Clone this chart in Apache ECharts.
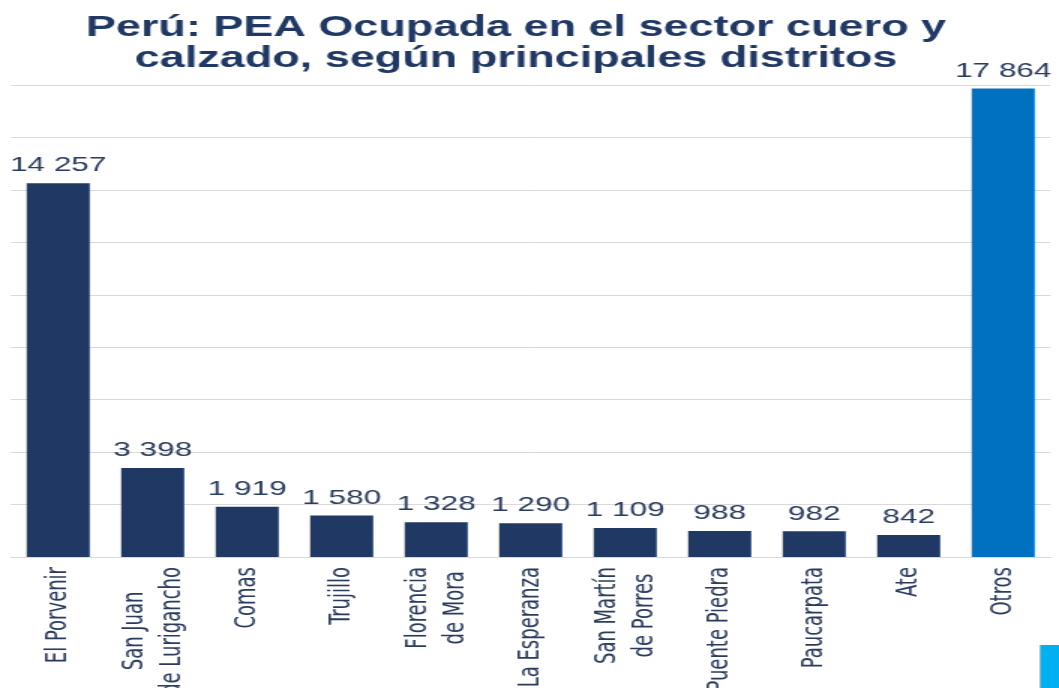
<!DOCTYPE html>
<html>
<head>
<meta charset="utf-8">
<script src="https://cdn.jsdelivr.net/npm/echarts@6/dist/echarts.min.js"></script>
<style>
  html, body { margin: 0; padding: 0; background: #fff; overflow: hidden; }
  /* the source picture is stretched sideways, so the chart is drawn narrow and widened */
  #chart { width: 706px; height: 688px; transform: scaleX(1.5); transform-origin: 0 0; }
</style>
</head>
<body>
<div id="chart"></div>
<script>
const districts = ['El Porvenir', 'San Juan\nde Lurigancho', 'Comas', 'Trujillo', 'Florencia\nde Mora',
  'La Esperanza', 'San Martín\nde Porres', 'Puente Piedra', 'Paucarpata', 'Ate', 'Otros'];
const peaOcupada = [14257, 3398, 1919, 1580, 1328, 1290, 1109, 988, 982, 842, 17864];

const navy = '#1f3864';
const textNavy = '#2a3b5c';
const blue = '#0070c0';

const fmt = v => String(v).replace(/\B(?=(\d{3})+(?!\d))/g, ' ');

const chart = echarts.init(document.getElementById('chart'), null, { renderer: 'canvas' });

chart.setOption({
  backgroundColor: '#fff',
  animation: false,
  title: {
    text: 'Perú: PEA Ocupada en el sector cuero y\ncalzado, según principales distritos',
    left: 339,
    top: 7,
    textAlign: 'center',
    textStyle: {
      fontFamily: 'Liberation Sans, Arial, sans-serif',
      fontWeight: 'bold',
      fontSize: 30,
      lineHeight: 31,
      color: navy
    }
  },
  grid: { left: 7.3, right: 5.7, top: 85, bottom: 131, containLabel: false, outerBoundsMode: 'none' },
  xAxis: {
    type: 'category',
    data: districts,
    axisTick: { show: false },
    axisLine: { lineStyle: { color: '#d9d9d9', width: 1 } },
    axisLabel: {
      rotate: 90,
      margin: 10,
      interval: 0,
      formatter: v => v.split('\n').map(s => '{c|' + s + '}').join('\n'),
      rich: {
        c: {
          align: 'center',
          fontFamily: 'Liberation Sans Narrow, Arial Narrow, DejaVu Sans Condensed, sans-serif',
          fontSize: 20,
          lineHeight: 25,
          color: textNavy
        }
      }
    }
  },
  yAxis: {
    type: 'value',
    min: 0,
    max: 18000,
    interval: 2000,
    axisLabel: { show: false },
    axisLine: { show: false },
    axisTick: { show: false },
    splitLine: { lineStyle: { color: '#d9d9d9', width: 1 } }
  },
  series: [{
    type: 'bar',
    data: peaOcupada,
    barWidth: '66.7%',
    itemStyle: {
      color: p => (p.name === 'Otros' ? blue : navy)
    },
    label: {
      show: true,
      position: 'top',
      distance: 7,
      formatter: p => fmt(p.value),
      fontFamily: 'Liberation Sans, Arial, sans-serif',
      fontSize: 21,
      color: textNavy
    }
  }],
  graphic: [{
    type: 'rect',
    left: 693.3,
    top: 645,
    shape: { width: 13, height: 43 },
    style: { fill: '#00b0f0' }
  }]
});
</script>
</body>
</html>
